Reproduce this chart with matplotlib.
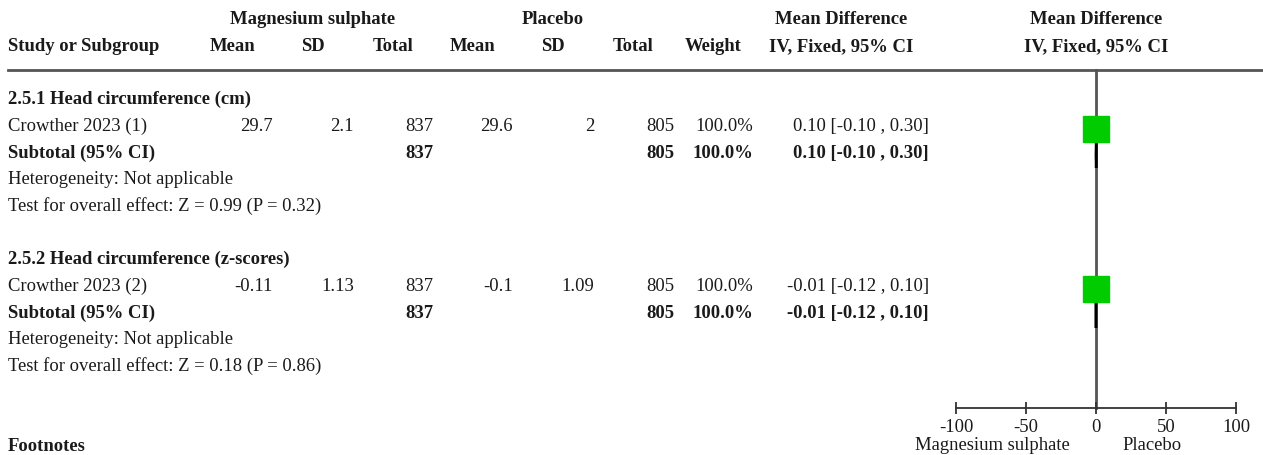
import matplotlib.pyplot as plt
from matplotlib.patches import Polygon

plt.rcParams['font.family'] = ['Liberation Serif', 'DejaVu Serif']
plt.rcParams['axes.unicode_minus'] = False

# study-level data, one entry per subgroup
subgroups = ["2.5.1 Head circumference (cm)", "2.5.2 Head circumference (z-scores)"]
studies = ["Crowther 2023 (1)", "Crowther 2023 (2)"]
mg_mean = [29.7, -0.11]
mg_sd = [2.1, 1.13]
mg_n = [837, 837]
pl_mean = [29.6, -0.1]
pl_sd = [2, 1.09]
pl_n = [805, 805]
weight = [100.0, 100.0]
md = [0.10, -0.01]
md_lo = [-0.10, -0.12]
md_hi = [0.30, 0.10]
z_vals = [0.99, 0.18]
p_vals = [0.32, 0.86]

x_ticks = [-100, -50, 0, 50, 100]

W, H = 1263, 456
fig = plt.figure(figsize=(W / 100, H / 100), dpi=100)
ax = fig.add_axes([0, 0, 1, 1])
ax.set_xlim(0, W)
ax.set_ylim(H, 0)
ax.axis('off')

txt = '#1a1a1a'
fs = 13.4

def put(x, y, s, ha='left', bold=False):
    ax.text(x, y + 1.5, s, ha=ha, va='center', fontsize=fs, color=txt,
            fontweight='bold' if bold else 'normal')

# column headers
put(313, 18, "Magnesium sulphate", 'center', True)
put(553, 18, "Placebo", 'center', True)
put(841, 18, "Mean Difference", 'center', True)
put(1096, 18, "Mean Difference", 'center', True)
put(8, 45, "Study or Subgroup", 'left', True)
for x, s in [(233, "Mean"), (313, "SD"), (393, "Total"), (473, "Mean"),
             (553, "SD"), (633, "Total"), (713, "Weight"),
             (841, "IV, Fixed, 95% CI"), (1096, "IV, Fixed, 95% CI")]:
    put(x, 45, s, 'center', True)

ax.plot([8, W], [71, 71], color='#555555', lw=2)

# forest panel
fx0, fx1 = 956, 1236
fax = fig.add_axes([fx0 / W, 0, (fx1 - fx0) / W, 1])
fax.set_xlim(x_ticks[0], x_ticks[-1])
fax.set_ylim(H, 0)
fax.patch.set_alpha(0)
for s in ['top', 'right', 'left']:
    fax.spines[s].set_visible(False)
fax.spines['bottom'].set_position(('data', 409))
fax.spines['bottom'].set_color('#333333')
fax.spines['bottom'].set_linewidth(1.3)
fax.set_yticks([])
fax.set_xticks(x_ticks)
fax.tick_params(axis='x', direction='inout', length=9, width=1.3, color='#333333',
                labelsize=fs, labelcolor=txt, pad=2.5)
fax.plot([0, 0], [71, 409], color='#555555', lw=2, zorder=1)

row0 = [98, 258]
for i in range(len(studies)):
    y = row0[i]
    put(8, y, subgroups[i], bold=True)
    r = y + 27
    put(8, r, studies[i])
    put(273, r, f"{mg_mean[i]:g}", 'right')
    put(354, r, f"{mg_sd[i]:g}", 'right')
    put(433, r, f"{mg_n[i]}", 'right')
    put(513, r, f"{pl_mean[i]:g}", 'right')
    put(594, r, f"{pl_sd[i]:g}", 'right')
    put(674, r, f"{pl_n[i]}", 'right')
    put(753, r, f"{weight[i]:.1f}%", 'right')
    ci = f"{md[i]:.2f} [{md_lo[i]:.2f} , {md_hi[i]:.2f}]"
    put(929, r, ci, 'right')
    fax.plot([md_lo[i], md_hi[i]], [r + 5, r + 5], color='black', lw=1)
    fax.plot(md[i], r + 5, marker='s', ms=18.5, color='#00cc00', mec='#00cc00', zorder=3)

    s = y + 54
    put(8, s, "Subtotal (95% CI)", bold=True)
    put(433, s, f"{mg_n[i]}", 'right', True)
    put(674, s, f"{pl_n[i]}", 'right', True)
    put(753, s, f"{weight[i]:.1f}%", 'right', True)
    put(929, s, ci, 'right', True)
    dy = s + 4
    fax.add_patch(Polygon([[md_lo[i], dy], [md[i], dy - 13], [md_hi[i], dy], [md[i], dy + 13]],
                          closed=True, facecolor='black', edgecolor='black', lw=1.8, zorder=2))

    put(8, y + 80, "Heterogeneity: Not applicable")
    put(8, y + 107, f"Test for overall effect: Z = {z_vals[i]:.2f} (P = {p_vals[i]:.2f})")

put(8, 445, "Footnotes", bold=True)
put(992, 444, "Magnesium sulphate", 'center')
put(1152, 444, "Placebo", 'center')

fig.savefig('out.png', dpi=100)
